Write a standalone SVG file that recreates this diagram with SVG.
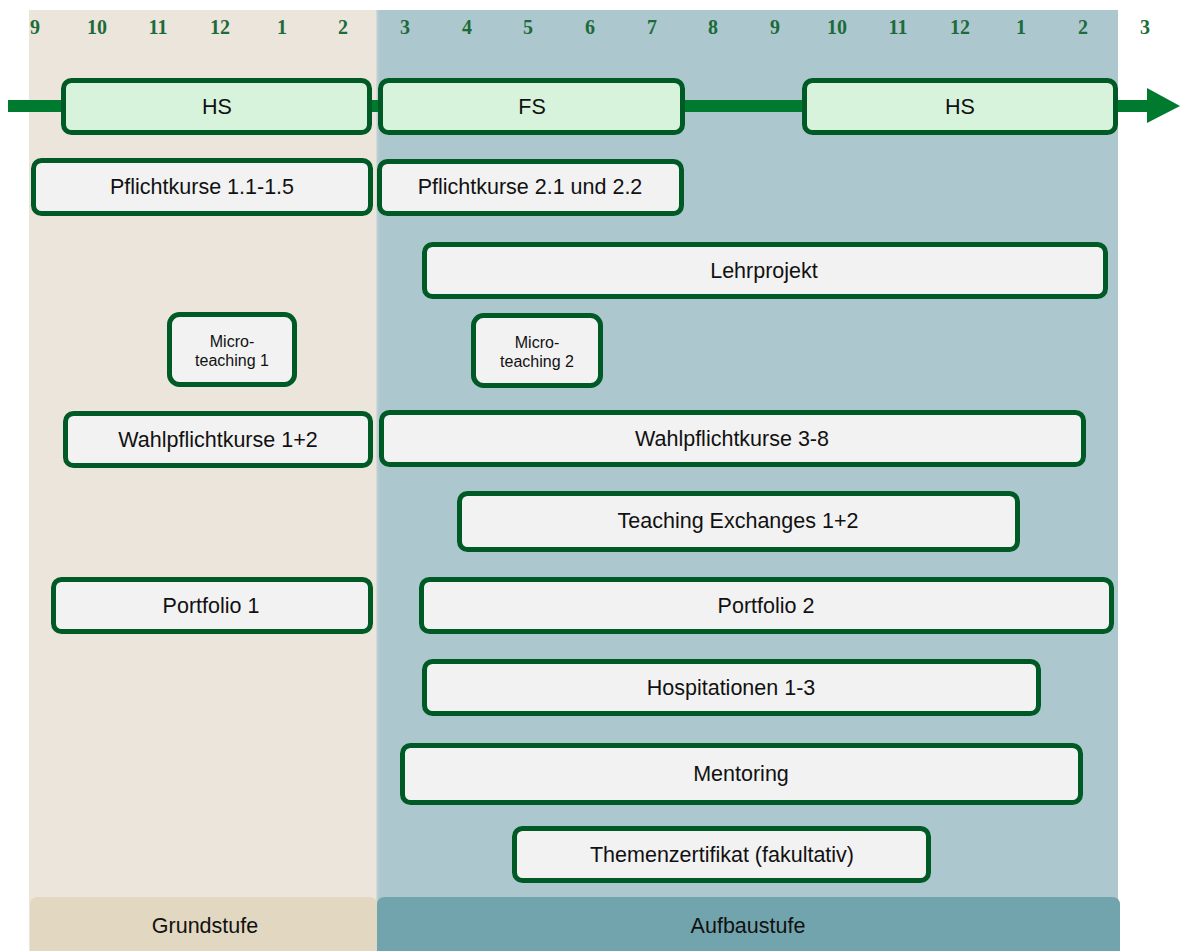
<svg xmlns="http://www.w3.org/2000/svg" width="1180" height="951" viewBox="0 0 1180 951">
<style>
.m{font-family:"Liberation Serif",serif;font-weight:bold;font-size:20px;fill:#1d6b3a;text-anchor:middle}
.sem rect{fill:#d8f3dc;stroke:#005a25;stroke-width:5}
.box rect{fill:#f2f2f2;stroke:#005a25;stroke-width:5}
text.t{font-family:"Liberation Sans",Arial,sans-serif;font-size:21.5px;fill:#111;text-anchor:middle;dominant-baseline:central}
text.s{font-family:"Liberation Sans",Arial,sans-serif;font-size:16px;fill:#111;text-anchor:middle}
</style>
<rect width="1180" height="951" fill="#ffffff"/>
<g id="panels">
<rect x="29" y="10" width="348" height="941" fill="#ece5db"/>
<rect x="377" y="10" width="741" height="941" fill="#acc8ce"/>
<line x1="377.5" y1="10" x2="377.5" y2="951" stroke="#b9cfd3" stroke-width="2"/>
<path d="M30,951 V905 Q30,897 38,897 H369 Q377,897 377,905 V951 Z" fill="#e2d8c2"/>
<path d="M377,951 V905 Q377,897 385,897 H1112 Q1120,897 1120,905 V951 Z" fill="#72a4ae"/>
<text class="t" x="205" y="926">Grundstufe</text>
<text class="t" x="748" y="926">Aufbaustufe</text>
</g>
<g id="months">
<text class="m" x="35" y="34">9</text>
<text class="m" x="97" y="34">10</text>
<text class="m" x="158" y="34">11</text>
<text class="m" x="220" y="34">12</text>
<text class="m" x="282" y="34">1</text>
<text class="m" x="343" y="34">2</text>
<text class="m" x="405" y="34">3</text>
<text class="m" x="467" y="34">4</text>
<text class="m" x="528" y="34">5</text>
<text class="m" x="590" y="34">6</text>
<text class="m" x="652" y="34">7</text>
<text class="m" x="713" y="34">8</text>
<text class="m" x="775" y="34">9</text>
<text class="m" x="837" y="34">10</text>
<text class="m" x="898" y="34">11</text>
<text class="m" x="960" y="34">12</text>
<text class="m" x="1021" y="34">1</text>
<text class="m" x="1083" y="34">2</text>
<text class="m" x="1145" y="34">3</text>
</g>
<g id="connectors">
<rect x="8" y="100" width="1140" height="12" fill="#007a2e"/>
<polygon points="1147,88 1180,106 1147,123" fill="#007a2e"/>
</g>
<g id="hs1" class="sem"><rect x="63.5" y="80.5" width="306" height="52" rx="8"/><text class="t" x="217" y="107">HS</text></g>
<g id="fs" class="sem"><rect x="380.5" y="80.5" width="302" height="52" rx="8"/><text class="t" x="532" y="107">FS</text></g>
<g id="hs2" class="sem"><rect x="804.5" y="80.5" width="311" height="52" rx="8"/><text class="t" x="960" y="107">HS</text></g>
<g id="pflicht1" class="box"><rect x="33.5" y="160.5" width="337" height="53" rx="8"/><text class="t" x="202" y="187">Pflichtkurse 1.1-1.5</text></g>
<g id="pflicht2" class="box"><rect x="379.5" y="161.5" width="302" height="52" rx="8"/><text class="t" x="530" y="187">Pflichtkurse 2.1 und 2.2</text></g>
<g id="lehrprojekt" class="box"><rect x="424.5" y="244.5" width="681" height="52" rx="8"/><text class="t" x="764" y="271">Lehrprojekt</text></g>
<g id="micro1" class="box"><rect x="169.5" y="314.5" width="125" height="70" rx="10"/><text class="s" x="232" y="347">Micro-</text><text class="s" x="232" y="366">teaching 1</text></g>
<g id="micro2" class="box"><rect x="473.5" y="315.5" width="127" height="70" rx="10"/><text class="s" x="537" y="348">Micro-</text><text class="s" x="537" y="367">teaching 2</text></g>
<g id="wahl1" class="box"><rect x="65.5" y="413.5" width="305" height="52" rx="8"/><text class="t" x="218" y="440">Wahlpflichtkurse 1+2</text></g>
<g id="wahl2" class="box"><rect x="381.5" y="412.5" width="702" height="52" rx="8"/><text class="t" x="732" y="439">Wahlpflichtkurse 3-8</text></g>
<g id="exchanges" class="box"><rect x="459.5" y="493.5" width="558" height="56" rx="8"/><text class="t" x="738" y="521">Teaching Exchanges 1+2</text></g>
<g id="portfolio1" class="box"><rect x="53.5" y="579.5" width="317" height="52" rx="8"/><text class="t" x="211" y="606">Portfolio 1</text></g>
<g id="portfolio2" class="box"><rect x="421.5" y="579.5" width="690" height="52" rx="8"/><text class="t" x="766" y="606">Portfolio 2</text></g>
<g id="hospitationen" class="box"><rect x="424.5" y="661.5" width="614" height="52" rx="8"/><text class="t" x="731" y="688">Hospitationen 1-3</text></g>
<g id="mentoring" class="box"><rect x="402.5" y="745.5" width="678" height="57" rx="8"/><text class="t" x="741" y="774">Mentoring</text></g>
<g id="themen" class="box"><rect x="514.5" y="828.5" width="414" height="52" rx="8"/><text class="t" x="722" y="855">Themenzertifikat (fakultativ)</text></g>
</svg>
